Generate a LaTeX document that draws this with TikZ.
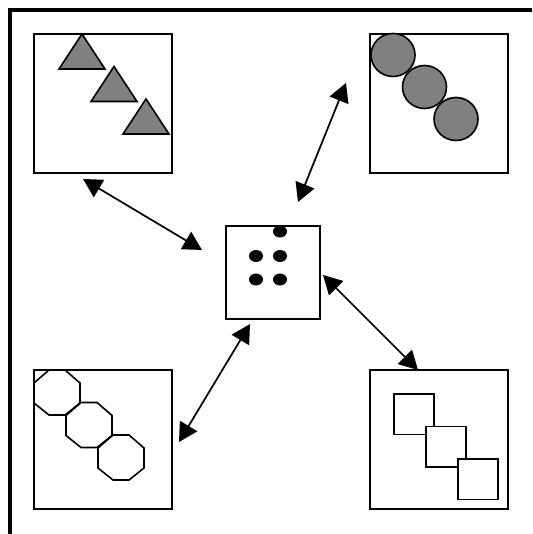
\documentclass[tikz,border=0pt]{standalone}
\usepackage{tikz}
\usepackage{xcolor}
\usetikzlibrary{arrows.meta, positioning}

\tikzset{
  panel/.style={draw, line width=1.3pt, minimum width=103.5pt, minimum height=104pt, inner sep=0pt},
  hub/.style={draw, line width=1.3pt, minimum width=70.5pt, minimum height=70pt, inner sep=0pt},
  link/.style={{Triangle[length=14pt,width=15pt]}-{Triangle[length=14pt,width=15pt]}, line width=1.3pt},
  piece/.style={draw, line width=1.2pt},
}

\begin{document}
\begin{tikzpicture}[x=0.75pt, y=-0.75pt]
\useasboundingbox (0,0) rectangle (532,534);
% Frame - only top and left edges
\draw[line width=3pt] (10,534) -- (10,10) -- (532,10);
% Four outer boxes and the hub
\node[panel] (tl) at (103,103.5) {};
\node[panel] (tr) at (439,103.5) {};
\node[panel] (bl) at (103,439.5) {};
\node[panel] (br) at (439,439.5) {};
\node[hub] (hub) at (273,272.5) {};
% Triangles
\foreach \i in {0,1,2} {
    \draw[piece, fill=gray] (82+32*\i, 34+32.5*\i) -- ++(23,35) -- ++(-46,0) -- cycle;
}
% Circles
\foreach \i in {0,1,2} {
    \draw[piece, fill=gray] (393+31.5*\i, 55+32*\i) ellipse [x radius=22, y radius=21.5];
}
% Octagons
\foreach \i in {0,1,2} {
    \draw[piece] (34+32*\i, 370+32.5*\i) ++(15,0) -- ++(16,0) -- ++(15,13) -- ++(0,20)
        -- ++(-15,12) -- ++(-16,0) -- ++(-15,-12) -- ++(0,-20) -- cycle;
}
% Squares
\foreach \i in {0,1,2} {
    \draw[piece, fill=white] (394+32*\i, 394+32.5*\i) rectangle ++(40,40.5);
}
% Dots in the hub
\foreach \x/\y in {280/231.5, 256/256, 280/256, 256/279.5, 280/279.5} {
    \fill (\x,\y) ellipse [x radius=7, y radius=6];
}
% Arrow ends
\coordinate (tlEnd) at (83,179);
\coordinate (hubNW) at (202,250);
\coordinate (trEnd) at (346,83);
\coordinate (hubN) at (298,202);
\coordinate (blEnd) at (179,442);
\coordinate (hubSW) at (250,324);
\coordinate (brEnd) at (418,370);
\coordinate (hubE) at (323,275);
\draw[link] (tlEnd) -- (hubNW);
\draw[link] (hubN) -- (trEnd);
\draw[link] (blEnd) -- (hubSW);
\draw[link] (hubE) -- (brEnd);
\end{tikzpicture}
\end{document}
